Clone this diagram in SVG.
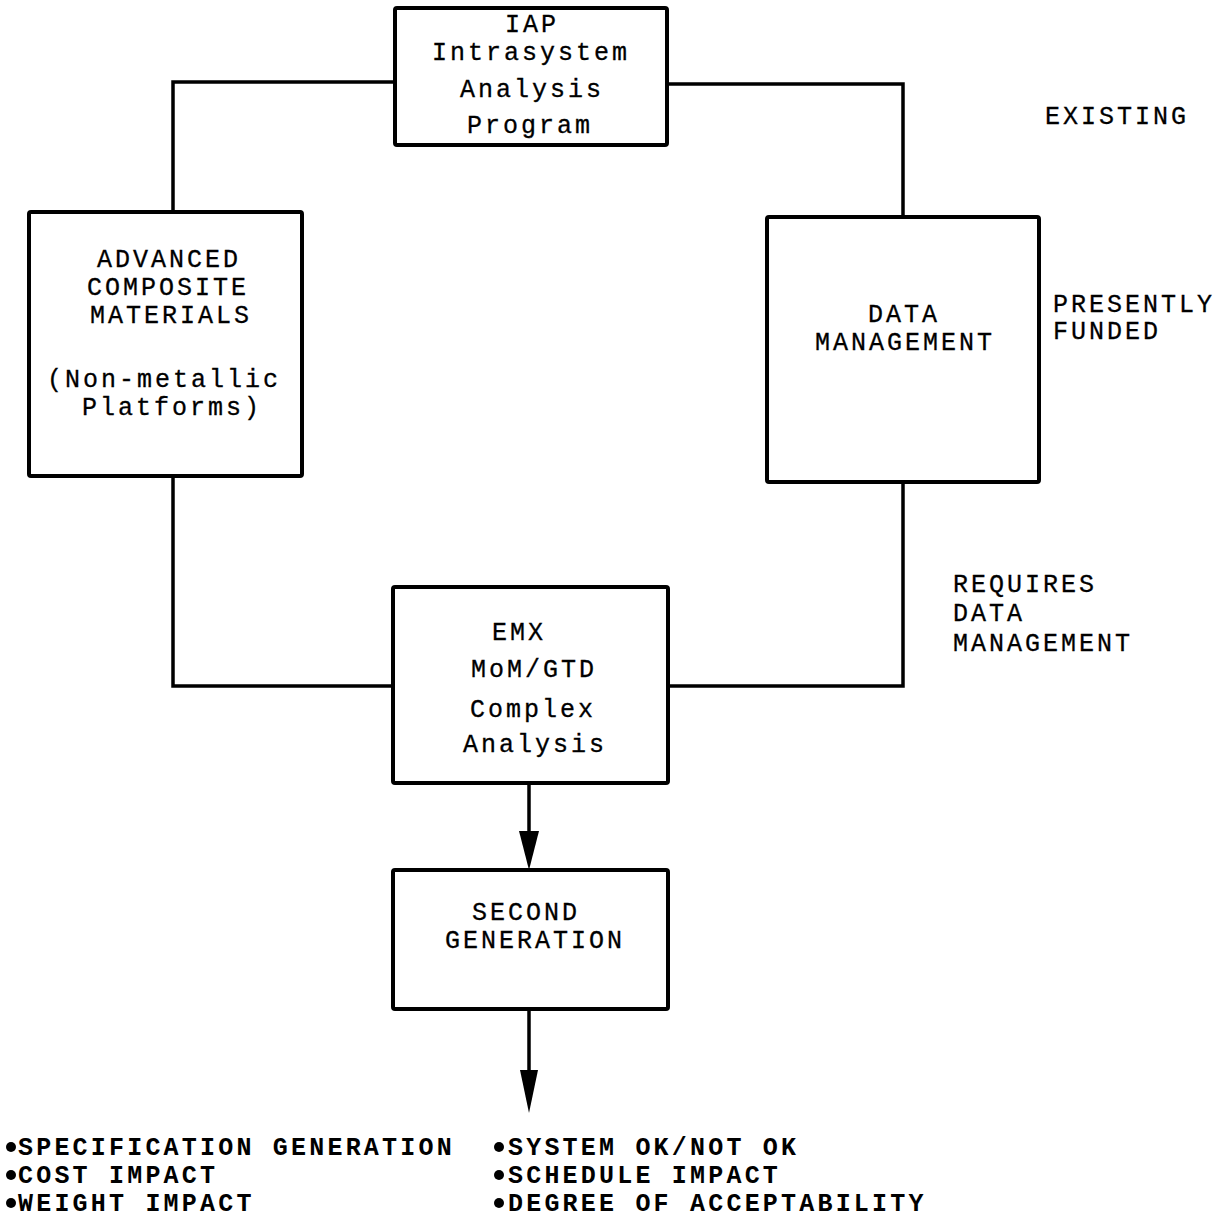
<svg xmlns="http://www.w3.org/2000/svg" width="1226" height="1217" viewBox="0 0 1226 1217">
<style>
.box{fill:#fff;stroke:#000;stroke-width:4}
.ln{fill:none;stroke:#000;stroke-width:3.5}
.t{font-family:"Liberation Mono","DejaVu Sans Mono",monospace;font-size:25px;letter-spacing:3px;fill:#000;stroke:#000;stroke-width:0.3}
.b{font-family:"Liberation Mono","DejaVu Sans Mono",monospace;font-size:25px;letter-spacing:3.2px;font-weight:bold;fill:#000}
</style>
<rect width="1226" height="1217" fill="#fff"/>
<g id="connectors">
<polyline class="ln" points="395,82 173,82 173,212"/>
<polyline class="ln" points="667,84 903,84 903,217"/>
<polyline class="ln" points="173,476 173,686 393,686"/>
<polyline class="ln" points="903,482 903,686 668,686"/>
<line class="ln" x1="529" y1="783" x2="529" y2="831" stroke-width="4"/>
<polygon points="519,831 539,831 529,870" fill="#000"/>
<line class="ln" x1="529" y1="1009" x2="529" y2="1072" stroke-width="4"/>
<polygon points="520,1070 538,1070 529,1113" fill="#000"/>
</g>
<g id="iap">
<rect class="box" x="395" y="8" width="272" height="137" rx="2"/>
<text class="t" x="505" y="32">IAP</text>
<text class="t" x="432" y="60">Intrasystem</text>
<text class="t" x="460" y="97">Analysis</text>
<text class="t" x="467" y="133">Program</text>
</g>
<g id="advanced">
<rect class="box" x="29" y="212" width="273" height="264" rx="2"/>
<text class="t" x="97" y="267">ADVANCED</text>
<text class="t" x="87" y="295">COMPOSITE</text>
<text class="t" x="90" y="323">MATERIALS</text>
<text class="t" x="47" y="387">(Non-metallic</text>
<text class="t" x="82" y="415">Platforms)</text>
</g>
<g id="datamgmt">
<rect class="box" x="767" y="217" width="272" height="265" rx="2"/>
<text class="t" x="868" y="322">DATA</text>
<text class="t" x="815" y="350">MANAGEMENT</text>
</g>
<g id="emx">
<rect class="box" x="393" y="587" width="275" height="196" rx="2"/>
<text class="t" x="492" y="640">EMX</text>
<text class="t" x="471" y="677">MoM/GTD</text>
<text class="t" x="470" y="717">Complex</text>
<text class="t" x="463" y="752">Analysis</text>
</g>
<g id="second">
<rect class="box" x="393" y="870" width="275" height="139" rx="2"/>
<text class="t" x="472" y="920">SECOND</text>
<text class="t" x="445" y="948">GENERATION</text>
</g>
<g id="labels">
<text class="t" x="1045" y="124">EXISTING</text>
<text class="t" x="1053" y="312">PRESENTLY</text>
<text class="t" x="1053" y="339">FUNDED</text>
<text class="t" x="953" y="592">REQUIRES</text>
<text class="t" x="953" y="621">DATA</text>
<text class="t" x="953" y="651">MANAGEMENT</text>
</g>
<g id="outputs">
<circle cx="11" cy="1147" r="5"/>
<circle cx="11" cy="1175" r="5"/>
<circle cx="11" cy="1203" r="5"/>
<circle cx="499" cy="1147" r="5"/>
<circle cx="499" cy="1175" r="5"/>
<circle cx="499" cy="1203" r="5"/>
<text class="b" x="18" y="1155">SPECIFICATION GENERATION</text>
<text class="b" x="18" y="1183">COST IMPACT</text>
<text class="b" x="18" y="1211">WEIGHT IMPACT</text>
<text class="b" x="508" y="1155">SYSTEM OK/NOT OK</text>
<text class="b" x="508" y="1183">SCHEDULE IMPACT</text>
<text class="b" x="508" y="1211">DEGREE OF ACCEPTABILITY</text>
</g>
</svg>
